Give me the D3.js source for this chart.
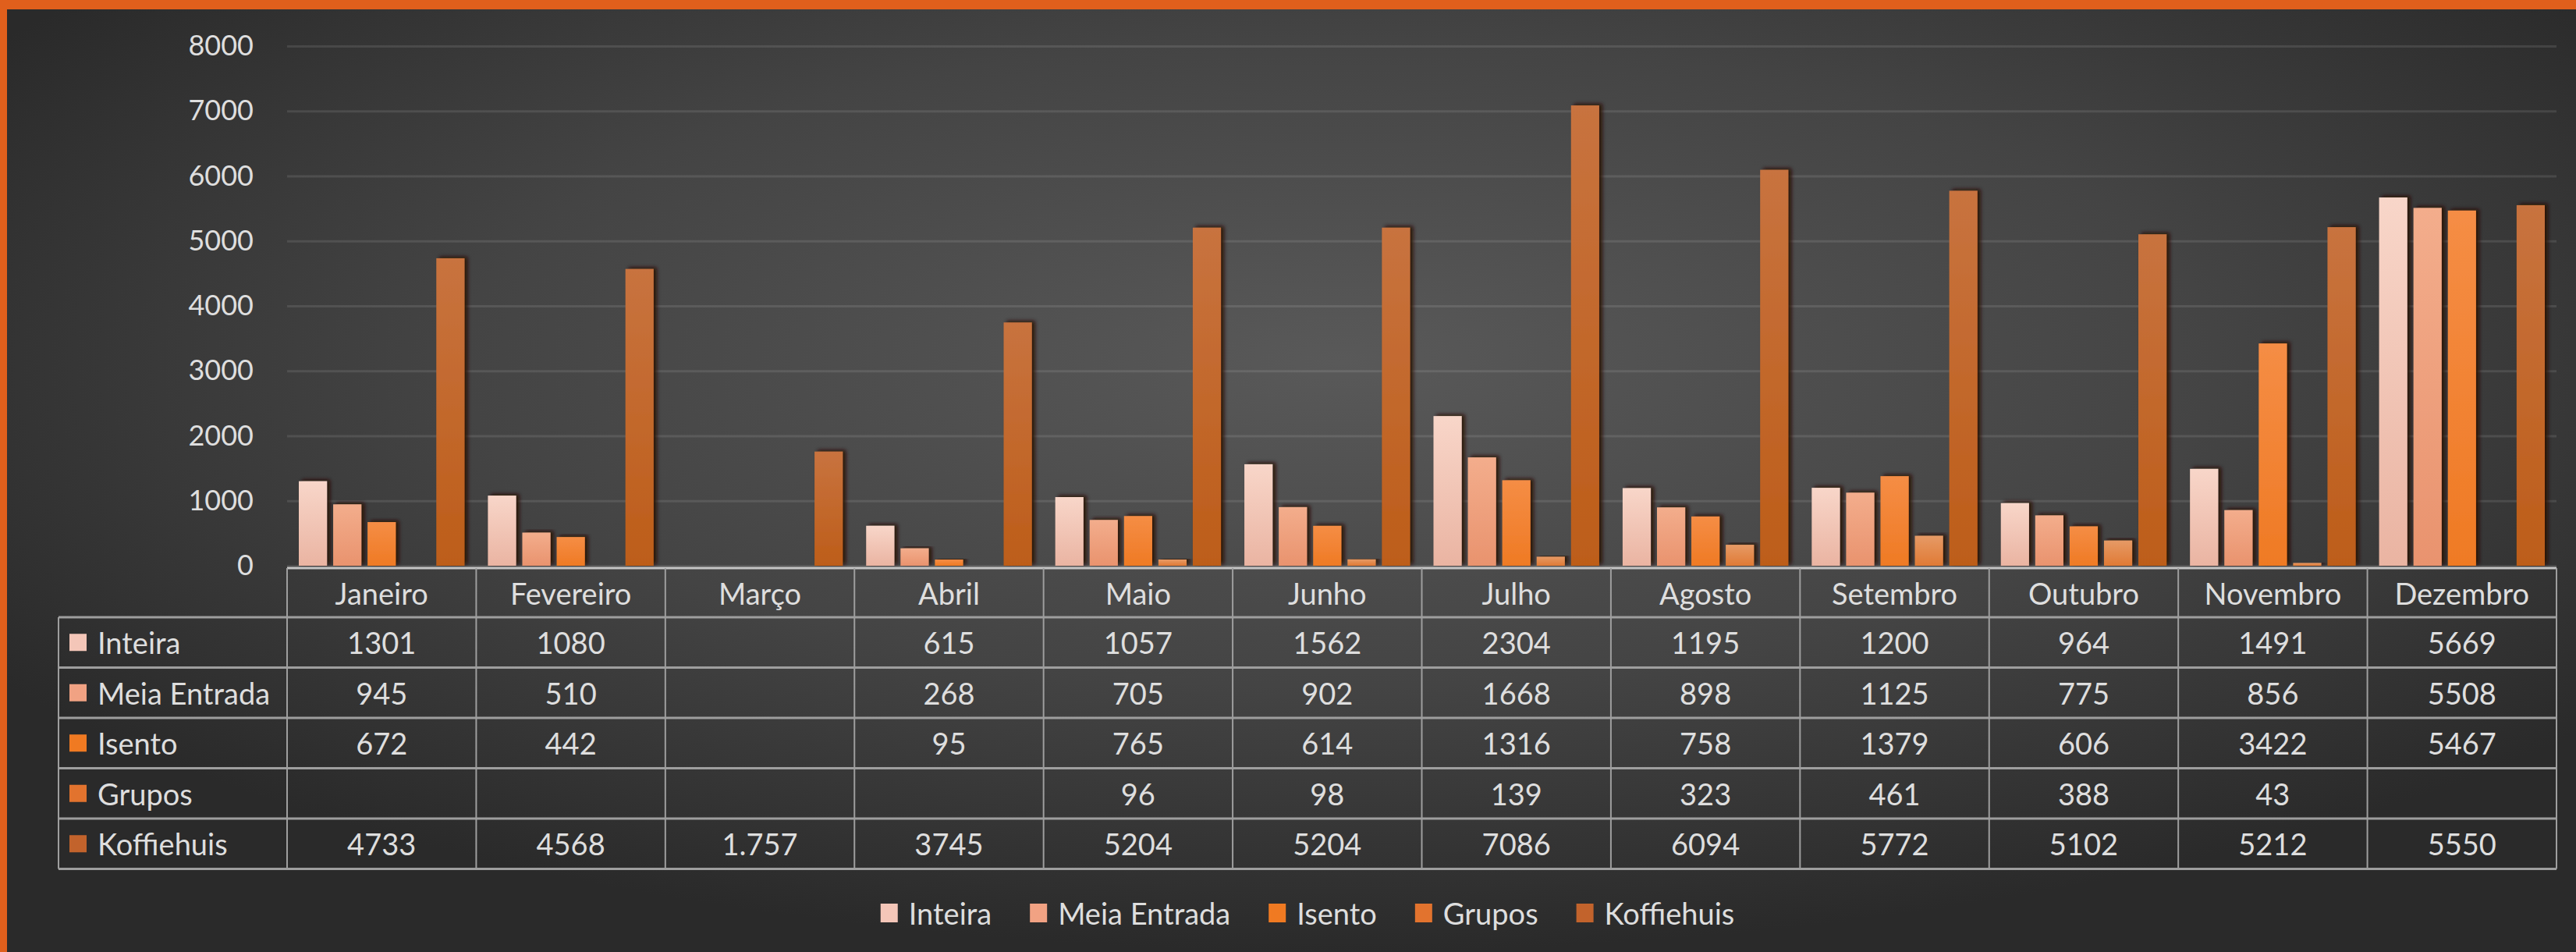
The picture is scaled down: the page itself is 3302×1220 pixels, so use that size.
<!DOCTYPE html>
<html>
<head>
<meta charset="utf-8">
<script src="https://cdn.jsdelivr.net/npm/d3@7"></script>
<style>
  html, body { margin: 0; padding: 0; background: #2b2b2b; overflow: hidden; }
  svg { display: block; }
  text { font-family: Lato, "Open Sans", sans-serif; fill: #dedede; }
</style>
</head>
<body>
<svg id="chart" width="3302" height="1220"></svg>
<script>
// ---------------- DATA ----------------
const months = ["Janeiro","Fevereiro","Março","Abril","Maio","Junho","Julho","Agosto","Setembro","Outubro","Novembro","Dezembro"];
const seriesNames = ["Inteira","Meia Entrada","Isento","Grupos","Koffiehuis"];
const inteira    = [1301,1080,null,615,1057,1562,2304,1195,1200,964,1491,5669];
const meiaEntrada= [945,510,null,268,705,902,1668,898,1125,775,856,5508];
const isento     = [672,442,null,95,765,614,1316,758,1379,606,3422,5467];
const grupos     = [null,null,null,null,96,98,139,323,461,388,43,null];
const koffiehuis = [4733,4568,1757,3745,5204,5204,7086,6094,5772,5102,5212,5550];
const yTicks = [0,1000,2000,3000,4000,5000,6000,7000,8000];
// table text as printed in the source (Março Koffiehuis is written "1.757")
const cellTextOverride = { "Koffiehuis|Março": "1.757" };

const seriesValues = [inteira, meiaEntrada, isento, grupos, koffiehuis];
const seriesColors = {
  "Inteira":      ["#f8d6c9", "#eab4a2"],
  "Meia Entrada": ["#f3ad8c", "#e9936e"],
  "Isento":       ["#f58d45", "#ef7a24"],
  "Grupos":       ["#e69a66", "#e07a35"],
  "Koffiehuis":   ["#c8733f", "#bd5d19"]
};
const swatchColors = {
  "Inteira": "#f4c6b8", "Meia Entrada": "#f1a283", "Isento": "#f07a22",
  "Grupos": "#e2732e", "Koffiehuis": "#c2632c"
};

// ---------------- LAYOUT ----------------
const W = 3302, H = 1220;
const plotLeft = 368, plotRight = 3277, baseY = 725, topY = 59;
const tableLeft = 75, tableTop = 728, headerH = 63, rowH = 64.5;

const svg = d3.select("#chart");
const defs = svg.append("defs");

// background gradient
const bg = defs.append("radialGradient").attr("id", "bg")
  .attr("cx", "52%").attr("cy", "38%").attr("r", "62%");
bg.append("stop").attr("offset", "0%").attr("stop-color", "#595959");
bg.append("stop").attr("offset", "55%").attr("stop-color", "#444444");
bg.append("stop").attr("offset", "100%").attr("stop-color", "#2a2a2a");

seriesNames.forEach((s, i) => {
  const g = defs.append("linearGradient").attr("id", "grad" + i)
    .attr("x1", 0).attr("y1", 0).attr("x2", 0).attr("y2", 1);
  g.append("stop").attr("offset", "0%").attr("stop-color", seriesColors[s][0]);
  g.append("stop").attr("offset", "100%").attr("stop-color", seriesColors[s][1]);
});

const f = defs.append("filter").attr("id", "shadow")
  .attr("x", "-40%").attr("y", "-10%").attr("width", "180%").attr("height", "120%");
f.append("feDropShadow").attr("dx", 4).attr("dy", -2).attr("stdDeviation", 2.5)
  .attr("flood-color", "#2a0c00").attr("flood-opacity", 0.9);

svg.append("rect").attr("width", W).attr("height", H).attr("fill", "url(#bg)");
// orange frame
svg.append("rect").attr("x", 0).attr("y", 0).attr("width", W).attr("height", 12).attr("fill", "#e05f1c");
svg.append("rect").attr("x", 0).attr("y", 0).attr("width", 9).attr("height", H).attr("fill", "#e05f1c");

// ---------------- SCALES ----------------
const x0 = d3.scaleBand().domain(months).range([plotLeft, plotRight]).paddingInner(0).paddingOuter(0);
const x1 = d3.scaleBand().domain(seriesNames).range([15, x0.bandwidth() - 15]).paddingInner(0.18);
const y = d3.scaleLinear().domain([0, 8000]).range([baseY, topY]);

// gridlines + y labels
const yAxis = d3.axisLeft(y).tickValues(yTicks).tickFormat(d3.format("d"))
  .tickSize(-(plotRight - plotLeft)).tickPadding(43);
const gy = svg.append("g").attr("transform", `translate(${plotLeft},0)`).call(yAxis);
gy.select(".domain").remove();
gy.selectAll(".tick line").attr("stroke", "#ffffff").attr("stroke-opacity", 0.1).attr("stroke-width", 3);
gy.selectAll(".tick text").attr("font-size", 36).attr("fill", "#dcdcdc")
  .style("font-family", "Lato, sans-serif");

// bars
const groups = svg.append("g").selectAll("g").data(months).join("g")
  .attr("transform", d => `translate(${x0(d)},0)`);
groups.selectAll("rect")
  .data((m, mi) => seriesNames.map((s, si) => ({ s, si, v: seriesValues[si][mi] })).filter(d => d.v != null))
  .join("rect")
  .attr("x", d => x1(d.s))
  .attr("width", x1.bandwidth())
  .attr("y", d => y(d.v))
  .attr("height", d => y(0) - y(d.v))
  .attr("fill", d => `url(#grad${d.si})`)
  .attr("filter", "url(#shadow)");

// ---------------- DATA TABLE ----------------
const tbl = svg.append("g");
const lineCol = "#9e9e9e";
const rowsTop = tableTop + headerH;
const tableBottom = rowsTop + rowH * seriesNames.length;

// axis line (top of header)
tbl.append("line").attr("x1", plotLeft).attr("x2", plotRight).attr("y1", tableTop).attr("y2", tableTop)
  .attr("stroke", "#c4c4c4").attr("stroke-width", 3);

// horizontal row lines
d3.range(seriesNames.length + 1).forEach(i => {
  const yy = rowsTop + i * rowH;
  tbl.append("line").attr("x1", tableLeft).attr("x2", plotRight).attr("y1", yy).attr("y2", yy)
    .attr("stroke", lineCol).attr("stroke-width", 3);
});
// vertical lines
months.concat(["__end"]).forEach((m, i) => {
  const xx = i < months.length ? x0(m) : plotRight;
  tbl.append("line").attr("x1", xx).attr("x2", xx).attr("y1", tableTop).attr("y2", tableBottom)
    .attr("stroke", lineCol).attr("stroke-width", 2);
});
tbl.append("line").attr("x1", tableLeft).attr("x2", tableLeft).attr("y1", rowsTop).attr("y2", tableBottom)
  .attr("stroke", lineCol).attr("stroke-width", 2);

// month headers
tbl.selectAll(".mh").data(months).join("text")
  .attr("x", d => x0(d) + x0.bandwidth() / 2)
  .attr("y", tableTop + headerH / 2)
  .attr("text-anchor", "middle").attr("dominant-baseline", "central")
  .attr("font-size", 38).text(d => d);

// rows
seriesNames.forEach((s, si) => {
  const cy = rowsTop + si * rowH + rowH / 2;
  tbl.append("rect").attr("x", 89).attr("y", cy - 11).attr("width", 22).attr("height", 22)
    .attr("fill", swatchColors[s]);
  tbl.append("text").attr("x", 125).attr("y", cy).attr("dominant-baseline", "central")
    .attr("font-size", 38).text(s);
  months.forEach((m, mi) => {
    const v = seriesValues[si][mi];
    if (v == null) return;
    const txt = cellTextOverride[s + "|" + m] || String(v);
    tbl.append("text").attr("x", x0(m) + x0.bandwidth() / 2).attr("y", cy)
      .attr("text-anchor", "middle").attr("dominant-baseline", "central")
      .attr("font-size", 38).text(txt);
  });
});

// ---------------- LEGEND ----------------
const legend = svg.append("g");
const legY = 1170, swW = 22, swH = 24, swGap = 14, itemGap = 49;
const items = legend.selectAll("g").data(seriesNames).join("g");
items.append("rect").attr("x", 0).attr("y", legY - swH / 2).attr("width", swW).attr("height", swH)
  .attr("fill", d => swatchColors[d]);
items.append("text").attr("x", swW + swGap).attr("y", legY).attr("dominant-baseline", "central")
  .attr("font-size", 38).text(d => d);
const widths = [];
items.each(function() {
  const w = swW + swGap + d3.select(this).select("text").node().getComputedTextLength();
  widths.push(w);
});
const total = d3.sum(widths) + itemGap * (widths.length - 1);
let startX = (tableLeft + plotRight) / 2 - total / 2;
items.attr("transform", (d, i) => {
  const t = `translate(${startX},0)`;
  startX += widths[i] + itemGap;
  return t;
});
</script>
</body>
</html>
